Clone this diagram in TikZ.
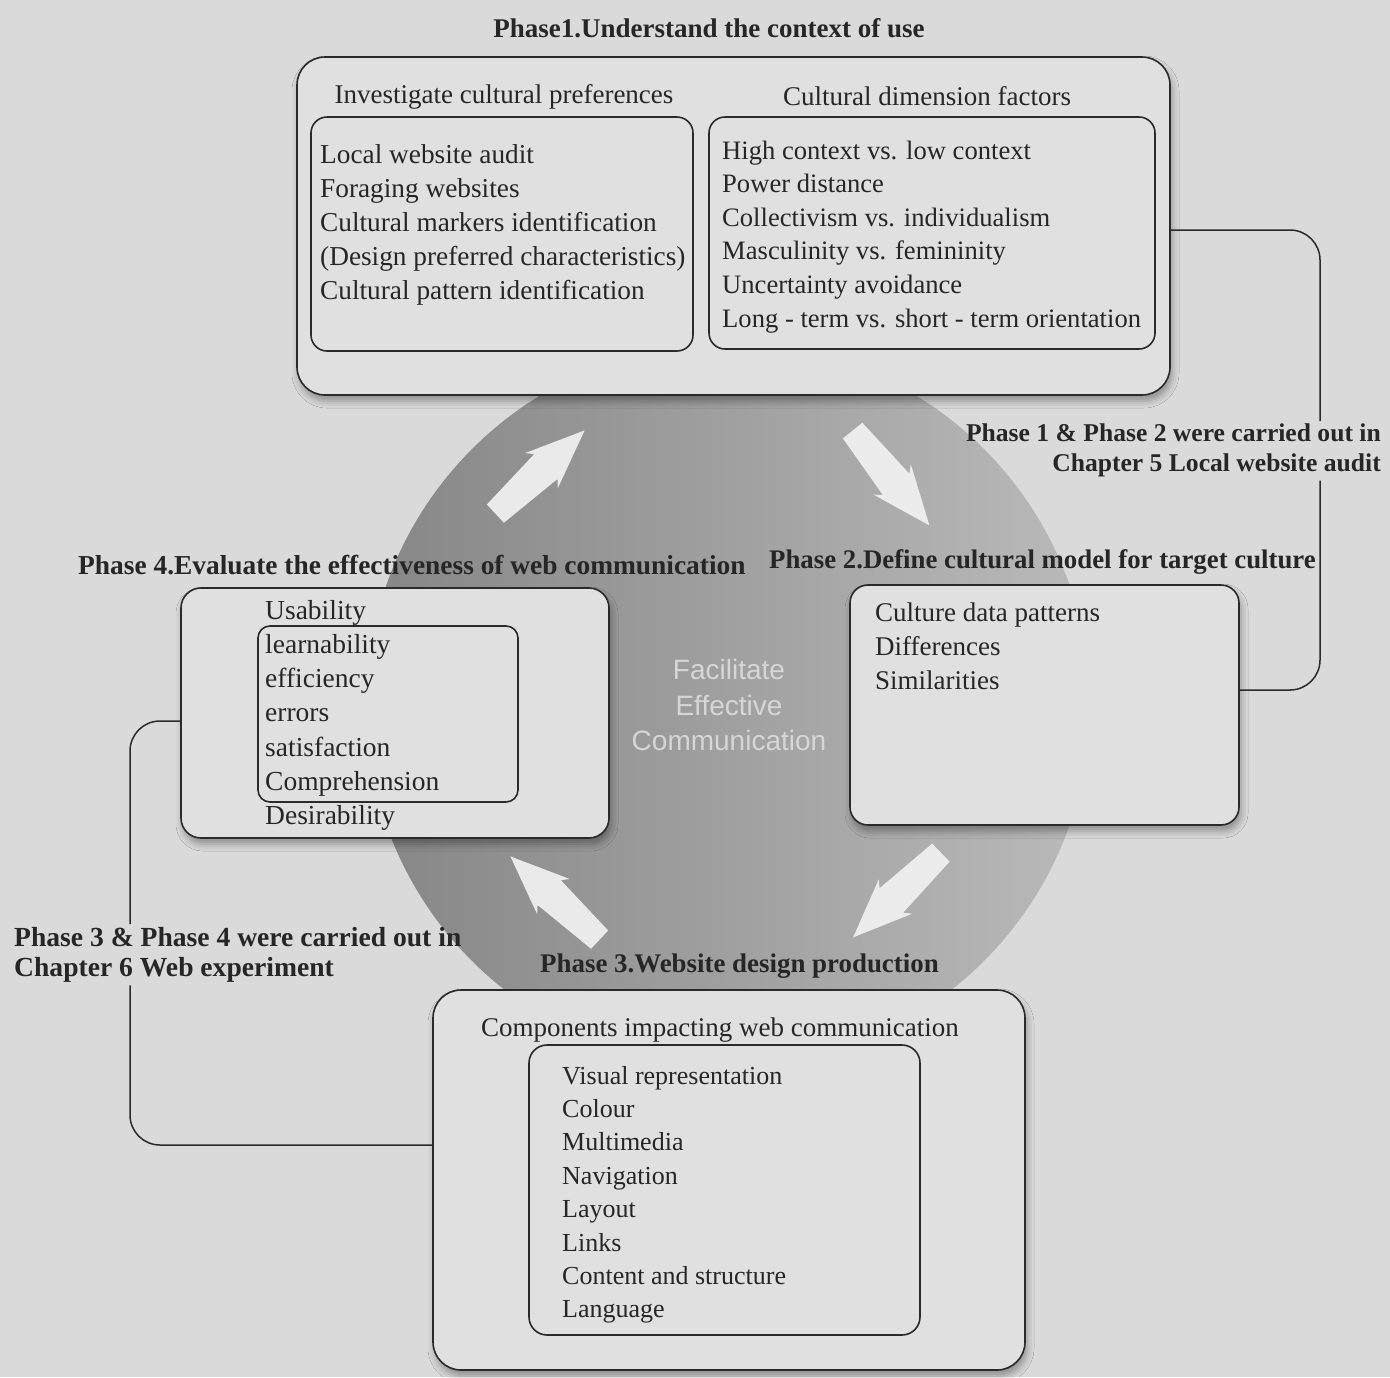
\documentclass[tikz,border=0pt]{standalone}
\usepackage{fontspec}
\setmainfont{Liberation Serif}
\newfontfamily\sansf{Liberation Sans}
\usetikzlibrary{shadows.blur}
\definecolor{bgc}{HTML}{DADADA}
\definecolor{boxc}{HTML}{E0E0E0}
\definecolor{linec}{HTML}{2A2A2A}
\definecolor{txtc}{HTML}{262626}
\definecolor{circd}{HTML}{868686}
\definecolor{circm}{HTML}{8E8E8E}
\definecolor{circl}{HTML}{BABABA}
\definecolor{facc}{HTML}{D6D6D6}
\definecolor{arrc}{HTML}{F2F2F2}
\begin{document}
\begin{tikzpicture}[x=1pt,y=-1pt,
  box/.style={draw=linec, line width=1.6pt, fill=boxc, inner sep=0pt, outer sep=0pt, anchor=north west},
  outerbox/.style={box, blur shadow={shadow xshift=2pt, shadow yshift=-6pt, shadow blur radius=7pt, shadow opacity=35}},
  txt/.style={anchor=base west, inner sep=0pt, text=txtc, font=\fontsize{27}{34}\selectfont},
  txtc/.style={txt, anchor=base},
  lbl/.style={anchor=base west, inner sep=0pt, text=txtc, font=\bfseries\fontsize{#1}{30}\selectfont},
  conn/.style={draw=linec, line width=1.5pt, rounded corners=30pt},
  warr/.pic={\fill[arrc, fill opacity=0.92] (-61,-12.5) -- (8,-17) -- (2,-24) -- (61,0) -- (2,24) -- (8,17) -- (-61,12.5) -- cycle;}
]
\useasboundingbox (0,0) rectangle (1390,1377);
\fill[bgc] (0,0) rectangle (1390,1377);

% central circle
\shade[left color=circd, middle color=circm, right color=circl] (728,705) circle[radius=362pt];

% white arrows
\pic[rotate=43] at (540,472) {warr};
\pic[rotate=-51] at (891,478) {warr};
\pic[rotate=-136] at (897,895) {warr};
\pic[rotate=137] at (555,898) {warr};

% centre text
\node[inner sep=0pt, text=facc, font=\sansf\fontsize{28}{35.5}\selectfont, align=center, anchor=north] (fac) at (729,659) {Facilitate\\Effective\\Communication};

% Phase 1
\node[lbl=27, anchor=base] (t1) at (709,37) {Phase1.Understand the context of use};
\node[outerbox, minimum width=873pt, minimum height=338pt, rounded corners=28pt] (p1) at (297,57) {};
\node[box, minimum width=382pt, minimum height=234pt, rounded corners=16pt] (p1a) at (311,117) {};
\node[box, minimum width=446pt, minimum height=232pt, rounded corners=16pt] (p1b) at (709,117) {};
\node[txtc] (h1a) at (504,103) {Investigate cultural preferences};
\node[txtc] (h1b) at (927,105) {Cultural dimension factors};
\foreach \t [count=\i] in {Local website audit, Foraging websites, Cultural markers identification, (Design preferred characteristics), Cultural pattern identification}
  \node[txt, font=\fontsize{27.3}{34}\selectfont] (la\i) at (320, 129+34*\i) {\t};
\foreach \t [count=\i] in {High context vs. low context, Power distance, Collectivism vs. individualism, Masculinity vs. femininity, Uncertainty avoidance, Long - term vs. short - term orientation}
  \node[txt, font=\fontsize{26.6}{34}\selectfont] (lb\i) at (722, 125.5+33.6*\i) {\t};

% Phase 2
\node[lbl=26.8] (t2) at (769,568) {Phase 2.Define cultural model for target culture};
\node[outerbox, minimum width=389pt, minimum height=240pt, rounded corners=18pt] (p2) at (850,585) {};
\foreach \t [count=\i] in {Culture data patterns, Differences, Similarities}
  \node[txt] (lc\i) at (875, 587+34*\i) {\t};

% Phase 4
\node[lbl=27.4] (t4) at (78,574) {Phase 4.Evaluate the effectiveness of web communication};
\node[outerbox, minimum width=428pt, minimum height=250pt, rounded corners=20pt] (p4) at (181,588) {};
\node[box, minimum width=260pt, minimum height=176pt, rounded corners=12pt] (p4in) at (258,626) {};
\foreach \t [count=\i] in {Usability, learnability, efficiency, errors, satisfaction, Comprehension, Desirability}
  \node[txt, font=\fontsize{27.5}{34}\selectfont] (ld\i) at (265, 585+34.2*\i) {\t};

% Phase 3
\node[lbl=26.9] (t3) at (540,972) {Phase 3.Website design production};
\node[outerbox, minimum width=592pt, minimum height=380pt, rounded corners=28pt] (p3) at (433,990) {};
\node[box, minimum width=391pt, minimum height=290pt, rounded corners=18pt] (p3in) at (529,1045) {};
\node[txtc] (h3) at (720,1036) {Components impacting web communication};
\foreach \t [count=\i] in {Visual representation, Colour, Multimedia, Navigation, Layout, Links, Content and structure, Language}
  \node[txt, font=\fontsize{26}{33}\selectfont] (le\i) at (562, 1050.6+33.4*\i) {\t};

% chapter labels
\node[inner sep=3pt, anchor=north east, align=right, text=txtc, font=\bfseries\fontsize{25.6}{30}\selectfont] (lab1) at (1384,421) {Phase 1 \& Phase 2 were carried out in\\Chapter 5 Local website audit};
\node[inner sep=3pt, anchor=north west, align=left, text=txtc, font=\bfseries\fontsize{27.6}{30}\selectfont] (lab2) at (11,924) {Phase 3 \& Phase 4 were carried out in\\Chapter 6 Web experiment};

% connectors
\coordinate (rl) at (1320,0);
\coordinate (ll) at (130,0);
\draw[conn] ([yshift=-4pt]p1.east) -| (rl |- lab1.north);
\draw[conn] (rl |- lab1.south) |- ([yshift=15pt]p2.east);
\draw[conn] ([yshift=-8pt]p4.west) -| (ll |- lab2.north);
\draw[conn] (ll |- lab2.south) |- ([yshift=35pt]p3.west);
\end{tikzpicture}
\end{document}
